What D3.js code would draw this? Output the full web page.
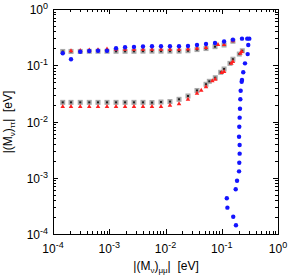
<!DOCTYPE html>
<html>
<head>
<meta charset="utf-8">
<script src="https://cdn.jsdelivr.net/npm/d3@7"></script>
<style>
  body { margin: 0; background: #fff; }
  text { font-family: "Liberation Sans", Arial, sans-serif; }
</style>
</head>
<body>
<div class="root"></div>
<script>
// gray squares, upper branch
var grayUpX = [1.49e-4, 2.09e-4, 3.05e-4, 4.41e-4, 6.31e-4, 9.12e-4, 1.32e-3, 1.91e-3, 2.75e-3, 3.98e-3,
               5.75e-3, 8.32e-3, 1.20e-2, 1.74e-2, 2.51e-2, 3.63e-2, 5.25e-2, 7.59e-2, 0.110, 0.158];
var grayUpY = [0.176, 0.176, 0.176, 0.177, 0.177, 0.177, 0.177, 0.177, 0.177, 0.178,
               0.178, 0.178, 0.178, 0.178, 0.181, 0.190, 0.198, 0.214, 0.229, 0.267];
// gray squares, lower branch
var grayLoX = [1.49e-4, 2.09e-4, 3.05e-4, 4.41e-4, 6.31e-4, 9.12e-4, 1.32e-3, 1.91e-3, 2.75e-3, 3.98e-3,
               5.75e-3, 8.32e-3, 1.20e-2, 1.74e-2, 2.51e-2, 3.63e-2, 5.25e-2, 0.0601, 0.0767, 0.0957,
               0.110, 0.140, 0.158, 0.205, 0.232];
var grayLoY = [0.0219, 0.0219, 0.0219, 0.0219, 0.0219, 0.0219, 0.0219, 0.0219, 0.0219, 0.0219,
               0.0217, 0.0222, 0.0226, 0.0248, 0.0284, 0.0356, 0.0459, 0.0518, 0.0601, 0.0749,
               0.0858, 0.108, 0.128, 0.158, 0.181];
// red triangles, upper branch
var redUpX = [2.09e-4, 3.05e-4, 4.41e-4, 6.31e-4, 9.12e-4, 1.32e-3, 1.91e-3, 2.75e-3, 3.98e-3,
              5.75e-3, 8.32e-3, 1.20e-2, 1.74e-2, 2.51e-2, 3.63e-2, 5.25e-2, 0.0857, 0.110, 0.158];
var redUpY = [0.180, 0.182, 0.185, 0.188, 0.194, 0.192, 0.192, 0.192, 0.192,
              0.192, 0.192, 0.192, 0.192, 0.194, 0.200, 0.205, 0.232, 0.232, 0.270];
// red triangles, lower branch
var redLoX = [1.49e-4, 2.09e-4, 3.05e-4, 4.41e-4, 6.31e-4, 9.12e-4, 1.32e-3, 1.91e-3, 2.75e-3, 3.98e-3,
              5.75e-3, 8.32e-3, 1.20e-2, 1.74e-2, 2.51e-2, 3.63e-2, 0.0432, 0.0525, 0.068, 0.0767,
              0.0998, 0.110, 0.148, 0.158, 0.214, 0.226];
var redLoY = [0.0183, 0.0183, 0.0183, 0.0183, 0.0183, 0.0183, 0.0183, 0.0183, 0.0183, 0.0183,
              0.0183, 0.0183, 0.0194, 0.0205, 0.0248, 0.0317, 0.0356, 0.0411, 0.0525, 0.0562,
              0.0738, 0.0770, 0.108, 0.116, 0.163, 0.174];
// blue circles
var blueX = [1.49e-4, 2.09e-4, 3.05e-4, 4.41e-4, 6.31e-4, 9.12e-4, 1.32e-3, 1.91e-3, 2.75e-3, 3.98e-3,
             5.75e-3, 8.32e-3, 1.20e-2, 1.74e-2, 2.51e-2, 3.63e-2, 5.25e-2, 7.59e-2, 0.110, 0.158,
             0.229, 0.284, 0.309,
             0.296, 0.289, 0.259, 0.241, 0.229, 0.226, 0.217, 0.214, 0.211, 0.208, 0.205, 0.203,
             0.208, 0.208, 0.205, 0.203, 0.187, 0.177, 0.123, 0.126, 0.160, 0.179];
var blueY = [0.163, 0.128, 0.174, 0.179, 0.181, 0.181, 0.200, 0.209, 0.212, 0.216,
             0.218, 0.218, 0.218, 0.218, 0.220, 0.229, 0.239, 0.249, 0.265, 0.285,
             0.297, 0.297, 0.297,
             0.229, 0.158, 0.108, 0.0749, 0.0547, 0.0510, 0.0353, 0.0248, 0.0169, 0.0117, 0.00809, 0.00537,
             0.00382, 0.00268, 0.00185, 0.00130, 8.87e-4, 6.24e-4, 4.31e-4, 2.94e-4, 2.03e-4, 1.43e-4];

var tickVals = [1e-4, 1e-3, 1e-2, 1e-1, 1];
var tickExp = ["-4", "-3", "-2", "-1", "0"];

var width = 289, height = 275;
var margin = {left: 53, right: 11, top: 9, bottom: 41};

var svg = d3.select('.root')
            .append('svg')
            .attr("width", width)
            .attr("height", height);

var x = d3.scaleLog().domain([1e-4, 1]).range([margin.left, width - margin.right]);
var y = d3.scaleLog().domain([1e-4, 1]).range([height - margin.bottom, margin.top]);

function zip(xs, ys) {
  return xs.map(function (v, i) { return {x: v, y: ys[i]}; });
}

// ticks (inward, mirrored)
var minor = [];
for (var e = -4; e < 0; e++) {
  for (var k = 2; k <= 9; k++) minor.push(k * Math.pow(10, e));
}
var ticks = svg.append('g').attr("stroke", "#000").attr("stroke-width", 1);
var x0 = x.range()[0], x1 = x.range()[1], y0 = y.range()[0], y1 = y.range()[1];
tickVals.concat(minor).forEach(function (v) {
  var len = tickVals.indexOf(v) >= 0 ? 5 : 3;
  var px = Math.round(x(v)) + 0.5, py = Math.round(y(v)) + 0.5;
  ticks.append('line').attr("x1", px).attr("x2", px).attr("y1", y0).attr("y2", y0 - len);
  ticks.append('line').attr("x1", px).attr("x2", px).attr("y1", y1).attr("y2", y1 + len);
  ticks.append('line').attr("y1", py).attr("y2", py).attr("x1", x0).attr("x2", x0 + len);
  ticks.append('line').attr("y1", py).attr("y2", py).attr("x1", x1).attr("x2", x1 - len);
});

svg.append('rect')
   .attr("x", x0 + 0.5).attr("y", y1 + 0.5)
   .attr("width", x1 - x0).attr("height", y0 - y1)
   .attr("fill", "none").attr("stroke", "#000").attr("stroke-width", 1);

// tick labels
tickVals.forEach(function (v, i) {
  var t = svg.append('text')
             .attr("x", x(v)).attr("y", y0 + 19)
             .attr("text-anchor", "middle")
             .attr("font-size", 12);
  t.append('tspan').text("10");
  t.append('tspan').attr("font-size", 9).attr("dy", -5).text(tickExp[i]);

  var s = svg.append('text')
             .attr("x", x0 - 5).attr("y", y(v) + 5)
             .attr("text-anchor", "end")
             .attr("font-size", 12);
  s.append('tspan').text("10");
  s.append('tspan').attr("font-size", 9).attr("dy", -5).text(tickExp[i]);
});

// axis titles
function title(sel, sub) {
  sel.append('tspan').text("|(M");
  sel.append('tspan').attr("font-size", 8).attr("dy", 3).text("ν");
  sel.append('tspan').attr("dy", -3).text(")");
  sel.append('tspan').attr("font-size", 8).attr("dy", 3).text(sub);
  sel.append('tspan').attr("dy", -3).text("|\u00a0\u00a0[eV]");
}
title(svg.append('text')
         .attr("x", 166).attr("y", 270)
         .attr("text-anchor", "middle")
         .attr("font-size", 12), "μμ");
title(svg.append('text')
         .attr("transform", "translate(12,122) rotate(-90)")
         .attr("text-anchor", "middle")
         .attr("font-size", 12), "ττ");

// points
var pts = svg.append('g');
var gray = zip(grayUpX, grayUpY).concat(zip(grayLoX, grayLoY));
pts.selectAll('rect.g').data(gray).enter().append('rect')
   .attr("x", function (d) { return x(d.x) - 2.5; })
   .attr("y", function (d) { return y(d.y) - 2.5; })
   .attr("width", 5).attr("height", 5)
   .attr("fill", "#a8a8a8");
pts.selectAll('rect.gc').data(gray).enter().append('rect')
   .attr("x", function (d) { return x(d.x) - 1; })
   .attr("y", function (d) { return y(d.y) - 1; })
   .attr("width", 2).attr("height", 2)
   .attr("fill", "#222");

var red = zip(redUpX, redUpY).concat(zip(redLoX, redLoY));
var tri = d3.symbol().type(d3.symbolTriangle).size(9);
pts.selectAll('path.r').data(red).enter().append('path')
   .attr("d", tri)
   .attr("transform", function (d) { return "translate(" + x(d.x) + "," + y(d.y) + ")"; })
   .attr("fill", "#ff2020");

var blue = zip(blueX, blueY);
pts.selectAll('circle').data(blue).enter().append('circle')
   .attr("cx", function (d) { return x(d.x); })
   .attr("cy", function (d) { return y(d.y); })
   .attr("r", 2.2)
   .attr("fill", "#1414ff");
</script>
</body>
</html>
